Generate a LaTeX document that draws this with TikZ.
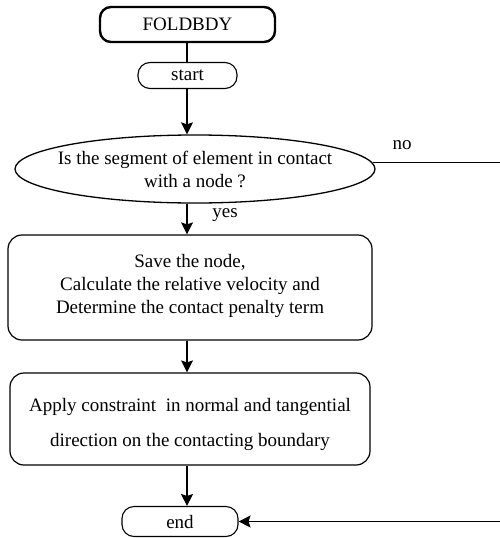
\documentclass[tikz,border=0pt]{standalone}
\usepackage{fontspec}
\setmainfont{Liberation Serif}
\usetikzlibrary{arrows.meta,shapes.geometric}
\tikzset{
  chart text/.style={font=\fontsize{19}{23}\selectfont},
  title box/.style={draw,line width=2.4pt,rounded corners=11pt,minimum width=175pt,minimum height=35pt,inner sep=0pt,chart text},
  terminal box/.style={draw,line width=1.1pt,rounded corners=12pt,minimum height=26pt,inner sep=0pt,chart text},
  decision oval/.style={ellipse,draw,line width=1.3pt,minimum width=360pt,minimum height=68pt,inner xsep=-16pt,inner ysep=0pt,align=center,chart text},
  process box/.style={draw,line width=1.2pt,rounded corners=14pt,inner sep=0pt,align=center,chart text},
  flow line/.style={line width=1.1pt},
  flow arrow/.style={line width=1.1pt,-{Stealth[length=12pt,width=12pt,inset=2pt]}},
  branch label/.style={inner sep=0pt,chart text},
}
\begin{document}
\begin{tikzpicture}[x=1pt,y=-1pt]
\useasboundingbox (0,0) rectangle (499,538);
% nodes
\node[title box] (fold) at (187.5,24.5) {FOLDBDY};
\node[terminal box,minimum width=99pt] (start) at (187.5,75.5) {start};
\node[decision oval] (decide) at (195,169) {Is the segment of element in contact\\with a node ?};
\node[process box,minimum width=364pt,minimum height=105pt] (save) at (190,287.5)
  {Save the node,\\Calculate the relative velocity and\\Determine the contact penalty term\rule[-7pt]{0pt}{0pt}};
\node[process box,minimum width=360pt,minimum height=92pt] (apply) at (190,419)
  {\rule{0pt}{25pt}Apply constraint\ \ in normal and tangential\\[12pt]direction on the contacting boundary};
\node[terminal box,minimum width=116pt,minimum height=30pt] (end) at (180,521.5) {end};
\node[branch label] (yes) at (225,215) {yes};
\node[branch label] (no) at (402,145) {no};
% connectors
\coordinate (spine) at (187,0);
\coordinate (noturn) at (504,0);
\draw[flow line] (fold.south -| spine) -- (start.north -| spine);
\draw[flow arrow] (start.south -| spine) -- (decide.north -| spine);
\draw[flow arrow] (decide.south -| spine) -- (save.north -| spine);
\draw[flow arrow] (save.south -| spine) -- (apply.north -| spine);
\draw[flow arrow] (apply.south -| spine) -- (end.north -| spine);
\draw[flow arrow] (decide.2) -- (decide.2 -| noturn) |- (end.east);
\end{tikzpicture}
\end{document}
